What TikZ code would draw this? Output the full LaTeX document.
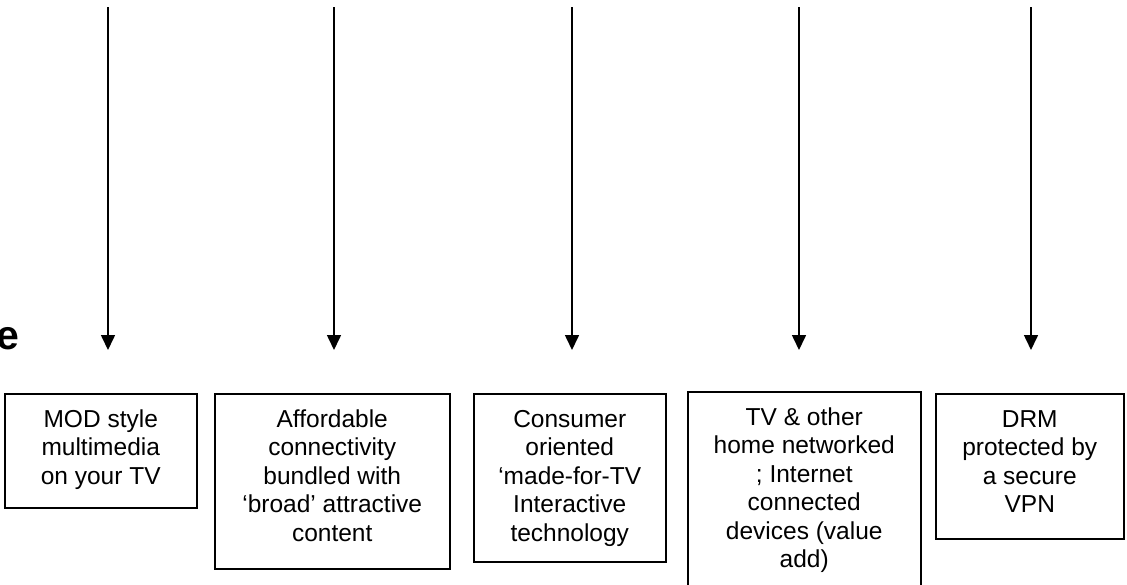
\documentclass[tikz,border=0pt]{standalone}
\usepackage{fontspec}
\setmainfont{Liberation Sans}
\usetikzlibrary{arrows.meta}

\begin{document}
\begin{tikzpicture}[x=1pt, y=-1pt,
  arr/.style={line width=1.6pt, -{Triangle[length=15pt,width=14pt]}},
  card/.style={draw, line width=1.5pt, rectangle, inner sep=0pt, anchor=north west},
  cardtext/.style={anchor=north, inner sep=0pt, align=center,
    font=\fontsize{24.5pt}{28.5pt}\selectfont},
]
% page frame (also crops the box running off the bottom)
\clip (0,0) rectangle (1127,584);

% tail of the heading on the left
\node[anchor=base west, inner sep=0pt, font=\bfseries\fontsize{41pt}{45pt}\selectfont]
  (head) at (-4,349) {e};

% arrow start and end points
\foreach \i/\x in {1/108, 2/334, 3/572, 4/799, 5/1031} {
  \coordinate (s\i) at (\x,7);
  \coordinate (t\i) at (\x,350);
}

% boxes
\node[card, minimum width=192pt, minimum height=114pt] (b1) at (4,393) {};
\node[card, minimum width=235pt, minimum height=175pt] (b2) at (214,393) {};
\node[card, minimum width=192pt, minimum height=168pt] (b3) at (473,393) {};
\node[card, minimum width=233pt, minimum height=210pt] (b4) at (687,391) {};
\node[card, minimum width=188pt, minimum height=145pt] (b5) at (935,393) {};

% box texts (first baseline at y = 427)
\node[cardtext] (l1) at (b1.north |- 0,409) {\rule{0pt}{18pt}MOD style\\multimedia\\on your TV};
\node[cardtext] (l2) at (b2.north |- 0,409) {\rule{0pt}{18pt}Affordable\\connectivity\\bundled with\\‘broad’ attractive\\content};
\node[cardtext] (l3) at (b3.north |- 0,409) {\rule{0pt}{18pt}Consumer\\oriented\\‘made-for-TV\\Interactive\\technology};
\node[cardtext] (l4) at (b4.north |- 0,407) {\rule{0pt}{18pt}TV \& other\\home networked\\; Internet\\connected\\devices (value\\add)};
\node[cardtext] (l5) at (b5.north |- 0,409) {\rule{0pt}{18pt}DRM\\protected by\\a secure\\VPN};

% arrows
\foreach \i in {1,...,5} {
  \draw[arr] (s\i) -- (t\i);
}
\end{tikzpicture}
\end{document}
